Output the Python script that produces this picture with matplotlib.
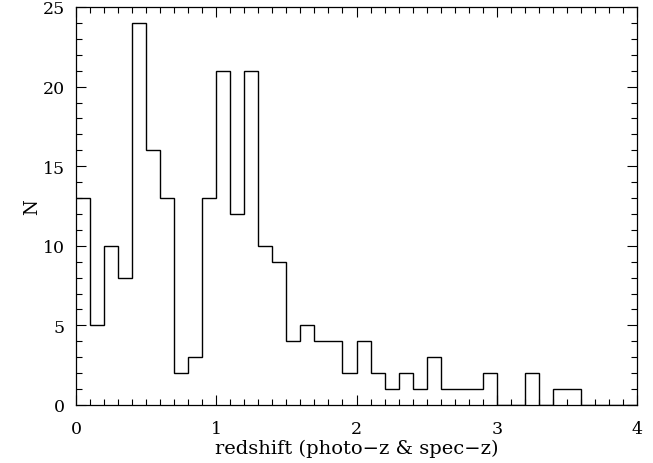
import numpy as np
import matplotlib
matplotlib.use("Agg")
import matplotlib.pyplot as plt
from matplotlib.ticker import MultipleLocator

bin_width = 0.1
bin_start = 0.0
counts = [13, 5, 10, 8, 24, 16, 13, 2, 3, 13,
          21, 12, 21, 10, 9, 4, 5, 4, 4, 2,
          4, 2, 1, 2, 1, 3, 1, 1, 1, 2,
          0, 0, 2, 0, 1, 1, 0, 0, 0, 0]
edges = bin_start + bin_width * np.arange(len(counts) + 1)

plt.rcParams['font.family'] = ['DejaVu Serif']

fig = plt.figure(figsize=(6.53, 4.64), dpi=100)
ax = fig.add_axes([76/653, 1 - 406/464, (637-76)/653, (406-8)/464])
ax.stairs(counts, edges, baseline=None, color='black', linewidth=1.0)

ax.set_xlim(0, 4)
ax.set_ylim(0, 25)
ax.xaxis.set_major_locator(MultipleLocator(1))
ax.xaxis.set_minor_locator(MultipleLocator(0.1))
ax.yaxis.set_major_locator(MultipleLocator(5))
ax.yaxis.set_minor_locator(MultipleLocator(1))
ax.tick_params(which='both', direction='in', top=True, right=True, labelsize=12.5, width=0.8)
ax.tick_params(which='major', length=7)
ax.tick_params(which='minor', length=4)
ax.tick_params(axis='x', pad=11)
ax.tick_params(axis='y', pad=8)
for s in ax.spines.values():
    s.set_linewidth(0.9)

ax.set_xlabel('redshift (photo\u2212z & spec\u2212z)', fontsize=14, labelpad=1)
ax.set_ylabel('N', fontsize=13, labelpad=1)

fig.savefig('out.png', dpi=100)
